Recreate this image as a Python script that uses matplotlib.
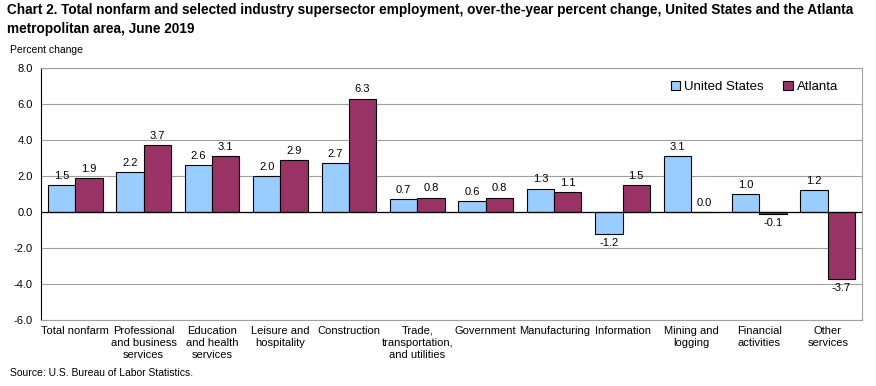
import numpy as np
import matplotlib
matplotlib.use('Agg')
import matplotlib.pyplot as plt

plt.rcParams['font.family'] = ['Liberation Sans', 'DejaVu Sans']

# ------------------------------------------------------------
# Data
# ------------------------------------------------------------
categories = [
    'Total nonfarm', 'Professional\nand business\nservices',
    'Education\nand health\nservices', 'Leisure and\nhospitality',
    'Construction', 'Trade,\ntransportation,\nand utilities',
    'Government', 'Manufacturing', 'Information', 'Mining and\nlogging',
    'Financial\nactivities', 'Other\nservices',
]
us_values = [1.5, 2.2, 2.6, 2.0, 2.7, 0.7, 0.6, 1.3, -1.2, 3.1, 1.0, 1.2]
atl_values = [1.9, 3.7, 3.1, 2.9, 6.3, 0.8, 0.8, 1.1, 1.5, 0.0, -0.1, -3.7]
yticks = [-6.0, -4.0, -2.0, 0.0, 2.0, 4.0, 6.0, 8.0]

US_COLOR = '#99CCFF'
ATL_COLOR = '#993366'

fig = plt.figure(figsize=(8.76, 3.86), dpi=100)
ax = fig.add_axes([41 / 876, 1 - 320 / 386, (862 - 41) / 876, (320 - 68) / 386])

x = np.arange(len(categories))
w = 0.4
b_us = ax.bar(x - w / 2, us_values, w, color=US_COLOR, edgecolor='black',
              linewidth=0.8, label='United States', zorder=3)
b_atl = ax.bar(x + w / 2, atl_values, w, color=ATL_COLOR, edgecolor='black',
               linewidth=0.8, label='Atlanta', zorder=3)

# value labels
for bars, vals in ((b_us, us_values), (b_atl, atl_values)):
    for rect, v in zip(bars, vals):
        cx = rect.get_x() + rect.get_width() / 2
        if v < 0:
            ax.annotate(f'{v:.1f}', (cx, v), xytext=(0, -3), textcoords='offset points',
                        ha='center', va='top', fontsize=8)
        else:
            ax.annotate(f'{v:.1f}', (cx, v), xytext=(0, 3), textcoords='offset points',
                        ha='center', va='bottom', fontsize=8)

ax.set_xlim(-0.5, len(categories) - 0.5)
ax.set_ylim(-6, 8)
ax.set_yticks(yticks)
ax.set_yticklabels([f'{t:.1f}' for t in yticks], fontsize=8)
ax.set_xticks(x)
ax.set_xticklabels(categories, fontsize=8, linespacing=1.25)
ax.tick_params(axis='x', length=0, pad=4)
ax.tick_params(axis='y', length=0, pad=6)

ax.yaxis.grid(True, color='#A0A0A0', linewidth=0.8, zorder=0)
ax.axhline(0, color='black', linewidth=0.9, zorder=4)
for side in ('top', 'right', 'bottom'):
    ax.spines[side].set_color('#A0A0A0')
ax.spines['left'].set_color('black')

ax.legend(loc='upper right', bbox_to_anchor=(0.985, 0.995), ncol=2, frameon=False,
          fontsize=9.5, handlelength=0.7, handleheight=0.7, handletextpad=0.3,
          columnspacing=1.5)

fig.text(7 / 876, 1 - 3 / 386,
         'Chart 2. Total nonfarm and selected industry supersector employment, '
         'over-the-year percent change, United States and the Atlanta\n'
         'metropolitan area, June 2019',
         ha='left', va='top', fontsize=9.85, fontweight='bold', linespacing=1.45)
fig.text(10 / 876, 1 - 45 / 386, 'Percent change', ha='left', va='top', fontsize=7.5)
fig.text(10 / 876, 1 - 368 / 386, 'Source: U.S. Bureau of Labor Statistics.',
         ha='left', va='top', fontsize=7.5)

fig.savefig('out.png', dpi=100)
